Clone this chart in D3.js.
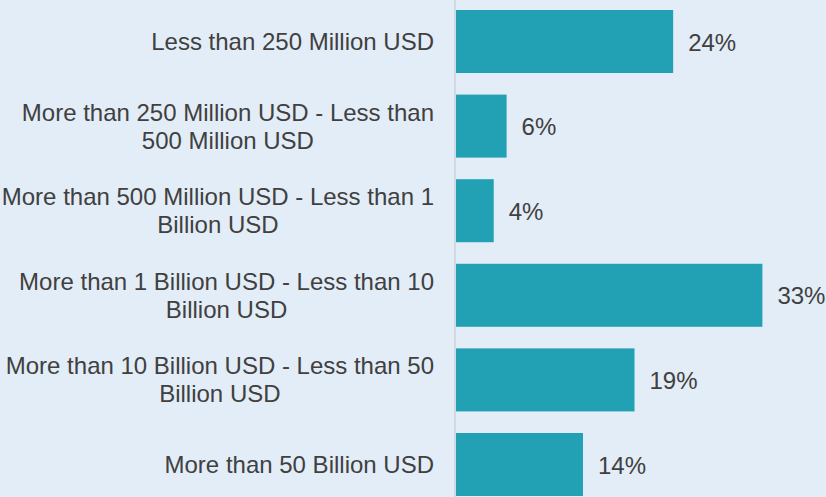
<!DOCTYPE html>
<html>
<head>
<meta charset="utf-8">
<script src="https://cdn.jsdelivr.net/npm/d3@7"></script>
<style>
  body { margin: 0; background: #e3edf7; }
  svg { display: block; }
</style>
</head>
<body>
<div id="chart"></div>
<script>
var categories = [
  "Less than 250 Million USD",
  "More than 250 Million USD - Less than 500 Million USD",
  "More than 500 Million USD - Less than 1 Billion USD",
  "More than 1 Billion USD - Less than 10 Billion USD",
  "More than 10 Billion USD - Less than 50 Billion USD",
  "More than 50 Billion USD"
];
// share of respondents, % (bar lengths, labels rounded)
var values = [23.6, 5.5, 4.1, 33.3, 19.4, 13.8];

var width = 826, height = 497;

function create_container(){
  var svg = d3.select("#chart").append("svg")
    .attr("width", width)
    .attr("height", height);
  svg.append("rect")
    .attr("width", width)
    .attr("height", height)
    .attr("fill", "#e3edf7");
  return svg;
}

function draw_bars(svg){
  var y = d3.scaleBand()
    .domain(categories)
    .range([-0.8, 506.8])
    .paddingInner(0.255)
    .paddingOuter(0.1275);

  var x = d3.scaleLinear()
    .domain([0, 33.3])
    .range([456, 762.4]);

  svg.selectAll(".bar")
    .data(values)
    .enter().append("rect")
    .attr("class", "bar")
    .attr("x", x(0))
    .attr("y", function(d, i){ return y(categories[i]); })
    .attr("width", function(d){ return x(d) - x(0); })
    .attr("height", y.bandwidth())
    .attr("fill", "#23a1b4");

  // vertical axis line
  svg.append("line")
    .attr("x1", x(0) - 1)
    .attr("y1", 0)
    .attr("x2", x(0) - 1)
    .attr("y2", height)
    .attr("stroke-width", 2)
    .attr("stroke", "#d3d9e0");

  svg.selectAll(".value")
    .data(values)
    .enter().append("text")
    .attr("class", "value")
    .attr("x", function(d){ return x(d) + 15; })
    .attr("y", function(d, i){ return y(categories[i]) + y.bandwidth() / 2; })
    .attr("dy", "0.38em")
    .style("font-family", "Arial, 'Liberation Sans', sans-serif")
    .style("font-size", "24px")
    .style("fill", "#404040")
    .text(function(d){ return Math.round(d) + "%"; });

  draw_labels(svg, y);
}

function draw_labels(svg, y){
  var right = 434, maxW = 436, lineH = 28;

  categories.forEach(function(cat){
    var g = svg.append("text")
      .style("font-family", "Arial, 'Liberation Sans', sans-serif")
      .style("font-size", "24px")
      .style("fill", "#404040")
      .attr("text-anchor", "middle");

    // wrap words to the label width
    var words = cat.split(" "), lines = [], line = [];
    var probe = g.append("tspan");
    words.forEach(function(w){
      line.push(w);
      probe.text(line.join(" "));
      if (probe.node().getComputedTextLength() > maxW && line.length > 1){
        line.pop();
        lines.push(line.join(" "));
        line = [w];
      }
    });
    lines.push(line.join(" "));

    var widest = 0;
    lines.forEach(function(l){
      probe.text(l);
      widest = Math.max(widest, probe.node().getComputedTextLength());
    });
    probe.remove();

    var cx = right - widest / 2;
    var cy = y(cat) + y.bandwidth() / 2;
    lines.forEach(function(l, i){
      g.append("tspan")
        .attr("x", cx)
        .attr("y", cy + (i - (lines.length - 1) / 2) * lineH)
        .attr("dy", "0.35em")
        .text(l);
    });
  });
}

var svgCont = create_container();
draw_bars(svgCont);
</script>
</body>
</html>
